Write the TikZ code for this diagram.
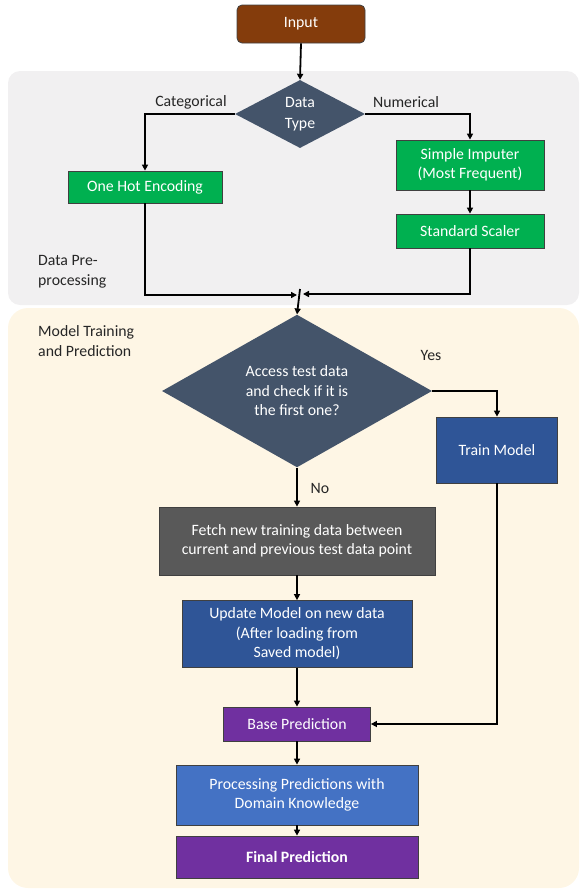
\documentclass[tikz,border=0pt]{standalone}
\usepackage{fontspec}
\setmainfont{Carlito}
\usetikzlibrary{shapes.geometric,arrows.meta}
\definecolor{cbrown}{HTML}{843C0C}
\definecolor{cslate}{HTML}{44546A}
\definecolor{cgreen}{HTML}{00B050}
\definecolor{cdblue}{HTML}{2F5597}
\definecolor{cgray}{HTML}{595959}
\definecolor{cpurple}{HTML}{7030A0}
\definecolor{cblue}{HTML}{4472C4}
\definecolor{bggray}{HTML}{F1F0F1}
\definecolor{bgyellow}{HTML}{FEF6E5}
\definecolor{ctext}{HTML}{262626}
\tikzset{
  box/.style={draw=black!75, line width=0.8pt, text=white, align=center, inner sep=2pt,
    font=\fontsize{15.8}{19.5}\selectfont},
  dia/.style={diamond, draw=none, fill=cslate, text=white, align=center, inner sep=0pt,
    font=\fontsize{15.8}{19.5}\selectfont},
  lbl/.style={text=ctext, font=\fontsize{15.8}{19.5}\selectfont, inner sep=0pt},
  arr/.style={line width=1.8pt, -{Triangle[length=6pt,width=6pt]}}
}
\begin{document}
\begin{tikzpicture}[x=1pt,y=-1pt]
\useasboundingbox (0,0) rectangle (579,892);
% background regions
\fill[bggray, rounded corners=12pt] (8,71) rectangle (579,305);
\fill[bgyellow, rounded corners=20pt] (8,308) rectangle (579,888);
% nodes
\node[box, fill=cbrown, rounded corners=5pt, minimum width=128, minimum height=38] (in) at (301,24) {Input};
\node[dia, minimum width=130, minimum height=68] (dt) at (300,114) {Data\\[1pt]Type};
\node[box, fill=cgreen, minimum width=154, minimum height=32] (oh) at (145,187) {One Hot Encoding};
\node[box, fill=cgreen, minimum width=148, minimum height=50] (si) at (470,165) {Simple Imputer\\(Most Frequent)};
\node[box, fill=cgreen, minimum width=148, minimum height=34] (ss) at (470,231) {Standard Scaler};
\node[dia, minimum width=270, minimum height=146] (d2) at (297,391) {Access test data\\and check if it is\\the first one?};
\node[box, fill=cdblue, minimum width=121, minimum height=66] (tm) at (497,450) {Train Model};
\node[box, fill=cgray, minimum width=276, minimum height=68] (fe) at (297,541) {Fetch new training data between\\current and previous test data point};
\node[box, fill=cdblue, minimum width=230, minimum height=67] (up) at (297,634) {Update Model on new data\\(After loading from\\Saved model)};
\node[box, fill=cpurple, minimum width=147, minimum height=34] (bp) at (297,724) {Base Prediction};
\node[box, fill=cblue, minimum width=242, minimum height=60] (pp) at (297,795) {Processing Predictions with\\Domain Knowledge};
\node[box, fill=cpurple, minimum width=242, minimum height=42, font=\fontsize{15.8}{19.5}\selectfont\bfseries] (fp) at (297,857) {Final Prediction};
% labels
\node[lbl] (cat) at (191,102) {Categorical};
\node[lbl] (num) at (406,102) {Numerical};
\node[lbl, align=left, anchor=west] (dpp) at (38,272) {Data Pre-\\processing};
\node[lbl, align=left, anchor=west] (mtp) at (38,341) {Model Training\\and Prediction};
\node[lbl] (yes) at (431,355) {Yes};
\node[lbl] (no) at (320,488) {No};
% merge points
\coordinate (mL) at (297,295);
\coordinate (mR) at (303,294);
\coordinate (mT) at (300,289);
% connectors
\draw[arr] (in.south) -- (dt.north);
\draw[arr] (dt.west) -| (oh.north);
\draw[arr] (dt.east) -| (si.north);
\draw[arr] (si.south) -- (ss.north);
\draw[arr] (oh.south) |- (mL);
\draw[arr] (ss.south) |- (mR);
\draw[arr] (mT) -- (d2.north);
\draw[arr] (d2.east) -| (tm.north);
\draw[arr] (d2.south) -- (fe.north);
\draw[arr] (fe.south) -- (up.north);
\draw[arr] (up.south) -- (bp.north);
\draw[arr] (tm.south) |- (bp.east);
\draw[arr] (bp.south) -- (pp.north);
\draw[arr] (pp.south) -- (fp.north);
\end{tikzpicture}
\end{document}
